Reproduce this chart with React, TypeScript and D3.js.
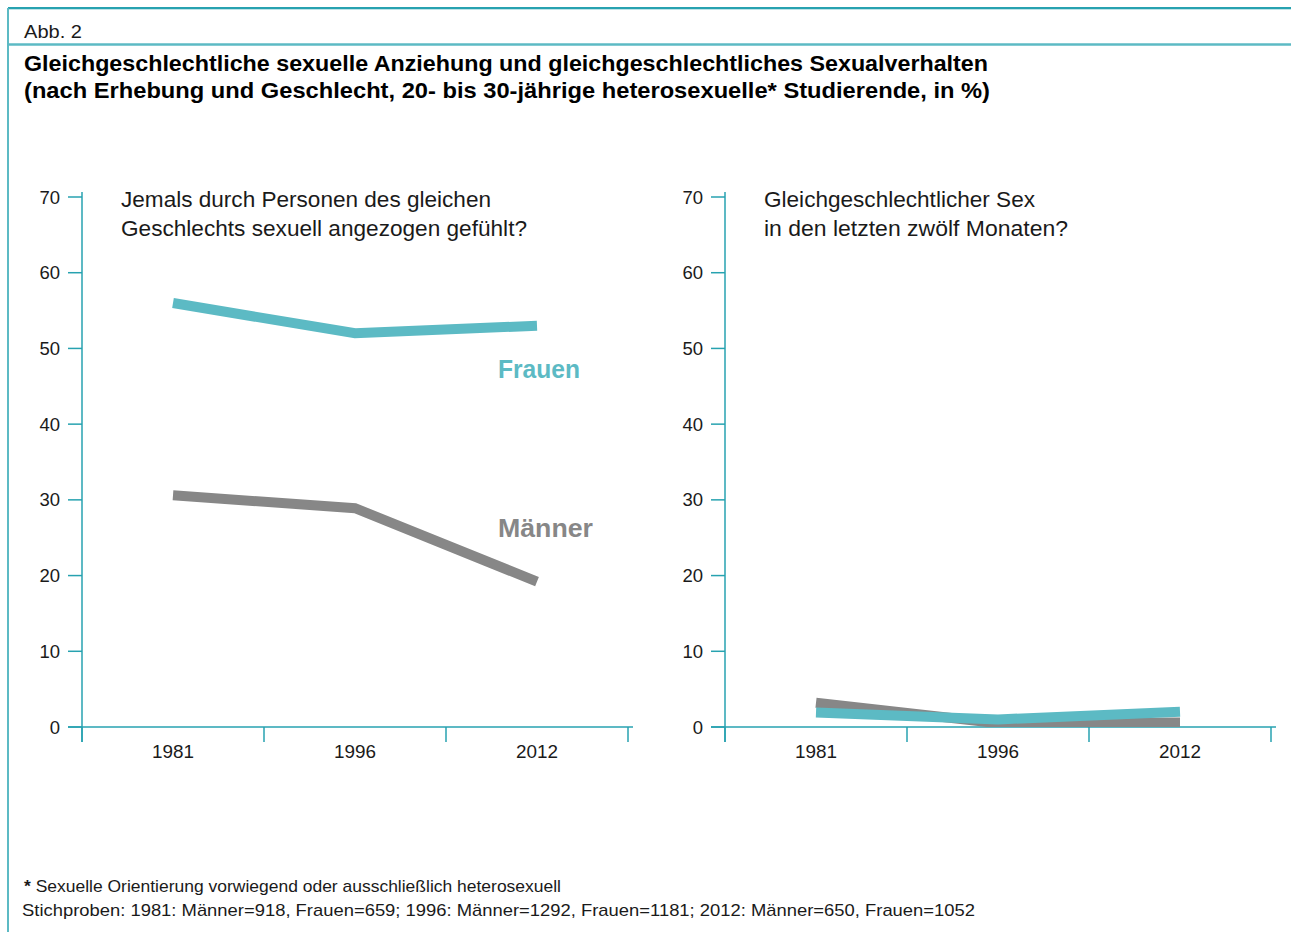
import React from "react";
import * as d3 from "d3";

const years = ["1981", "1996", "2012"];
const yTicks = [0, 10, 20, 30, 40, 50, 60, 70];
const attractionFrauen = [56, 52, 53];
const attractionMaenner = [30.6, 28.9, 19.2];
const sexFrauen = [1.9, 1.0, 2.0];
const sexMaenner = [3.2, 0.5, 0.6];

const TEAL_LINE = "#5cbac4";
const TEAL_AXIS = "#27a2b0";
const GRAY = "#878787";
const FONT = "'Liberation Sans', Arial, sans-serif";

type PanelProps = {
  x0: number;
  title: string[];
  titleLens: number[];
  frauen: number[];
  maenner: number[];
  labels: boolean;
  id: string;
};

function Panel({ x0, title, titleLens, frauen, maenner, labels, id }: PanelProps) {
  const x = d3.scaleBand<string>().domain(years).range([x0, x0 + 546]).padding(0);
  const y = d3.scaleLinear().domain([0, 70]).range([727, 197]);
  const line = d3
    .line<number>()
    .x((_, i) => (x(years[i]) as number) + x.bandwidth() / 2)
    .y((d) => y(d));
  const bounds = [...years.map((yr) => x(yr) as number), x0 + 546];
  return (
    <g>
      <defs>
        <clipPath id={id}>
          <rect x={x0} y={150} width={560} height={y(0) - 150} />
        </clipPath>
      </defs>
      <line x1={x0} x2={x0} y1={y(70) - 5} y2={742} stroke={TEAL_AXIS} strokeWidth={1.5} />
      {yTicks.map((t) => (
        <g key={t}>
          <line x1={x0 - 14} x2={x0} y1={y(t)} y2={y(t)} stroke={TEAL_AXIS} strokeWidth={1.5} />
          <text x={x0 - 22} y={y(t) + 6.5} textAnchor="end" fontSize={18.5} fontFamily={FONT} fill="#1a1a1a">
            {t}
          </text>
        </g>
      ))}
      <line x1={x0 - 14} x2={x0 + 551} y1={y(0)} y2={y(0)} stroke={TEAL_AXIS} strokeWidth={1.5} />
      {bounds.map((b, i) => (
        <line key={i} x1={b} x2={b} y1={y(0)} y2={742} stroke={TEAL_AXIS} strokeWidth={1.5} />
      ))}
      {years.map((yr) => (
        <text
          key={yr}
          x={(x(yr) as number) + x.bandwidth() / 2}
          y={758}
          textAnchor="middle"
          fontSize={19}
          fontFamily={FONT}
          fill="#1a1a1a"
          textLength={42}
          lengthAdjust="spacingAndGlyphs"
        >
          {yr}
        </text>
      ))}
      {title.map((t, i) => (
        <text
          key={i}
          x={x0 + 39}
          y={207 + i * 29}
          fontSize={22}
          fontFamily={FONT}
          fill="#1a1a1a"
          textLength={titleLens[i]}
          lengthAdjust="spacingAndGlyphs"
        >
          {t}
        </text>
      ))}
      <g clipPath={`url(#${id})`}>
        <path d={line(maenner) || ""} fill="none" stroke={GRAY} strokeWidth={10} strokeLinejoin="miter" />
        <path d={line(frauen) || ""} fill="none" stroke={TEAL_LINE} strokeWidth={10} strokeLinejoin="miter" />
      </g>
      {labels && (
        <>
          <text x={x0 + 416} y={378} fontSize={25} fontWeight="bold" fontFamily={FONT} fill={TEAL_LINE} textLength={82} lengthAdjust="spacingAndGlyphs">
            Frauen
          </text>
          <text x={x0 + 416} y={537} fontSize={25} fontWeight="bold" fontFamily={FONT} fill={GRAY} textLength={95} lengthAdjust="spacingAndGlyphs">
            Männer
          </text>
        </>
      )}
    </g>
  );
}

export default function App() {
  return (
    <svg
      width={1291}
      height={932}
      style={{ position: "absolute", left: 0, top: 0, background: "#fff" }}
    >
      <line x1={8} x2={1291} y1={8} y2={8} stroke={TEAL_AXIS} strokeWidth={2} />
      <line x1={8} x2={1291} y1={9.5} y2={9.5} stroke="#bfe4e8" strokeWidth={1} />
      <line x1={8} x2={8} y1={8} y2={932} stroke={TEAL_LINE} strokeWidth={2} />
      <line x1={8} x2={1291} y1={44.5} y2={44.5} stroke={TEAL_LINE} strokeWidth={2.5} />
      <text x={24} y={38} fontSize={18} fontFamily={FONT} fill="#1a1a1a" textLength={58} lengthAdjust="spacingAndGlyphs">
        Abb. 2
      </text>
      <text x={24} y={71} fontSize={22} fontWeight="bold" fontFamily={FONT} fill="#000" textLength={964} lengthAdjust="spacingAndGlyphs">
        Gleichgeschlechtliche sexuelle Anziehung und gleichgeschlechtliches Sexualverhalten
      </text>
      <text x={24} y={98} fontSize={22} fontWeight="bold" fontFamily={FONT} fill="#000" textLength={966} lengthAdjust="spacingAndGlyphs">
        (nach Erhebung und Geschlecht, 20- bis 30-jährige heterosexuelle* Studierende, in %)
      </text>
      <Panel
        x0={82}
        id="clipA"
        title={["Jemals durch Personen des gleichen", "Geschlechts sexuell angezogen gefühlt?"]}
        titleLens={[370, 406]}
        frauen={attractionFrauen}
        maenner={attractionMaenner}
        labels={true}
      />
      <Panel
        x0={725}
        id="clipB"
        title={["Gleichgeschlechtlicher Sex", "in den letzten zwölf Monaten?"]}
        titleLens={[271, 304]}
        frauen={sexFrauen}
        maenner={sexMaenner}
        labels={false}
      />
      <text x={24} y={892} fontSize={17} fontFamily={FONT} fill="#1a1a1a" textLength={537} lengthAdjust="spacingAndGlyphs">
        <tspan fontWeight="bold">*</tspan> Sexuelle Orientierung vorwiegend oder ausschließlich heterosexuell
      </text>
      <text x={22} y={916} fontSize={17} fontFamily={FONT} fill="#1a1a1a" textLength={953} lengthAdjust="spacingAndGlyphs">
        Stichproben: 1981: Männer=918, Frauen=659; 1996: Männer=1292, Frauen=1181; 2012: Männer=650, Frauen=1052
      </text>
    </svg>
  );
}
